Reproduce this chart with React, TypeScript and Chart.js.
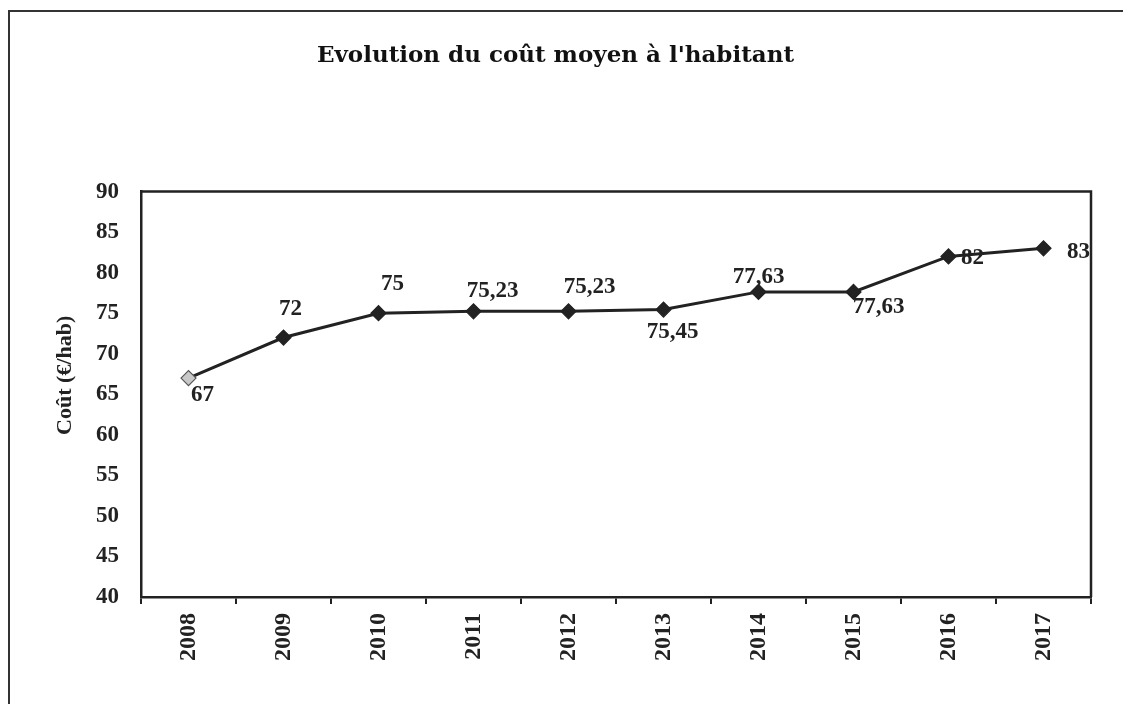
import React, { useEffect, useRef } from "react";
import { Chart, registerables } from "chart.js";

Chart.register(...registerables);

const years = ["2008", "2009", "2010", "2011", "2012", "2013", "2014", "2015", "2016", "2017"];
const costs = [67, 72, 75, 75.23, 75.23, 75.45, 77.63, 77.63, 82, 83];
const yMin = 40;
const yMax = 90;
const yStep = 5;
const chartTitle = "Evolution du coût moyen à l'habitant";
const yTitle = "Coût (€/hab)";
// label offsets (dx, dy) relative to each point
const labelOffsets: [number, number][] = [
  [14, 17], [7, -28], [14, -29], [19, -20], [21, -24],
  [9, 22], [0, -15], [25, 15], [24, 2], [35, 4],
];

const INK = "#222";

const fmt = (v: number) => String(v).replace(".", ",");

const dataLabelPlugin = {
  id: "dataLabels",
  afterDatasetsDraw(chart: any) {
    const ctx = chart.ctx;
    const meta = chart.getDatasetMeta(0);
    ctx.save();
    ctx.font = "bold 23px 'Liberation Serif'";
    ctx.fillStyle = INK;
    ctx.textAlign = "center";
    ctx.textBaseline = "middle";
    meta.data.forEach((pt: any, i: number) => {
      const [dx, dy] = labelOffsets[i];
      ctx.fillText(fmt(costs[i]), pt.x + dx, pt.y + dy);
    });
    ctx.restore();
  },
};

const framePlugin = {
  id: "plotFrame",
  afterDraw(chart: any) {
    const { ctx, chartArea } = chart;
    ctx.save();
    ctx.strokeStyle = INK;
    ctx.lineWidth = 2.5;
    ctx.beginPath();
    ctx.moveTo(chartArea.left, chartArea.top);
    ctx.lineTo(chartArea.right, chartArea.top);
    ctx.lineTo(chartArea.right, chartArea.bottom);
    ctx.stroke();
    // y-axis title, set slightly above the plot's middle as in the reference
    ctx.font = "bold 22px 'Liberation Serif'";
    ctx.fillStyle = INK;
    ctx.textAlign = "center";
    ctx.textBaseline = "middle";
    ctx.translate(chartArea.left - 76, (chartArea.top + chartArea.bottom) / 2 - 19);
    ctx.rotate(-Math.PI / 2);
    ctx.fillText(yTitle, 0, 0);
    ctx.restore();
  },
};

export default function App() {
  const ref = useRef<HTMLCanvasElement | null>(null);

  useEffect(() => {
    if (!ref.current) return;
    const chart = new Chart(ref.current, {
      type: "line",
      data: {
        labels: years,
        datasets: [
          {
            data: costs,
            borderColor: INK,
            borderWidth: 3,
            pointStyle: "rectRot",
            pointRadius: 7.5,
            pointBorderWidth: 1.2,
            pointBackgroundColor: costs.map((_, i) => (i === 0 ? "#c8c8c8" : INK)),
            pointBorderColor: costs.map((_, i) => (i === 0 ? "#555" : INK)),
            tension: 0,
            fill: false,
          },
        ],
      },
      options: {
        responsive: false,
        animation: false,
        devicePixelRatio: 1,
        layout: { padding: { left: 20, right: 32, top: 0, bottom: 0 } },
        plugins: {
          legend: { display: false },
          tooltip: { enabled: false },
          title: {
            display: true,
            text: chartTitle,
            color: "#111",
            font: { family: "'DejaVu Serif'", size: 23, weight: "bold" },
            padding: { top: 42, bottom: 122 },
          },
        },
        scales: {
          x: {
            type: "category",
            offset: true,
            grid: {
              display: true,
              drawOnChartArea: false,
              drawTicks: true,
              tickLength: 7,
              offset: true,
              color: INK,
              lineWidth: 2,
            },
            border: { display: true, color: INK, width: 2.5 },
            ticks: {
              color: INK,
              minRotation: 90,
              maxRotation: 90,
              padding: 9,
              font: { family: "'Liberation Serif'", size: 24, weight: "bold" },
            },
            afterFit: (s: any) => {
              s.height = 107;
            },
          },
          y: {
            min: yMin,
            max: yMax,
            grid: { display: false },
            border: { display: true, color: INK, width: 2.5 },
            ticks: {
              stepSize: yStep,
              color: INK,
              padding: 14,
              font: { family: "'Liberation Serif'", size: 23, weight: "bold" },
            },
            afterFit: (s: any) => {
              s.width = 121;
            },
          },
        },
      },
      plugins: [dataLabelPlugin, framePlugin],
    });
    return () => chart.destroy();
  }, []);

  return (
    <div style={{ position: "absolute", left: 0, top: 0, width: 1123, height: 704, background: "#fff", overflow: "hidden" }}>
      <div
        style={{
          position: "absolute",
          left: 8,
          top: 10,
          width: 1200,
          height: 800,
          borderLeft: "2px solid #333",
          borderTop: "2px solid #333",
        }}
      />
      <canvas ref={ref} width={1123} height={704} style={{ position: "absolute", left: 0, top: 0 }} />
    </div>
  );
}
